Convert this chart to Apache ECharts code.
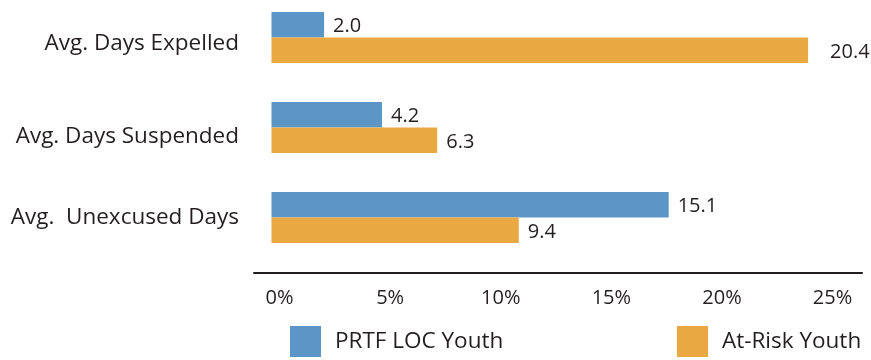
<!DOCTYPE html>
<html>
<head>
<meta charset="utf-8">
<script src="https://cdn.jsdelivr.net/npm/echarts@6/dist/echarts.min.js"></script>
<style>
  html, body { margin: 0; padding: 0; background: #fff; }
  #chart { width: 871px; height: 360px; }
</style>
</head>
<body>
<div id="chart"></div>
<script>
// Attendance and discipline measures, top to bottom
const categories = ['Avg. Days Expelled', 'Avg. Days Suspended', 'Avg.  Unexcused Days'];
const seriesNames = ['PRTF LOC Youth', 'At-Risk Youth'];
const prtfValues = [2.0, 4.2, 15.1];
const atRiskValues = [20.4, 6.3, 9.4];
const tickLabels = [0, 5, 10, 15, 20, 25];

const FONT = '"Open Sans", "Noto Sans", sans-serif';
const INK = '#231f20';
const BLUE = '#5b96c6';
const ORANGE = '#eaa843';

const chart = echarts.init(document.getElementById('chart'), null, { renderer: 'canvas' });

function valueLabel(dist) {
  return {
    show: true,
    position: 'right',
    distance: dist,
    offset: [0, 2],
    color: INK,
    fontFamily: FONT,
    fontSize: 20,
    formatter: p => p.value.toFixed(1)
  };
}

// per-row vertical nudges for the category labels
const catRich = {
  r0: { padding: [12, 0, 0, 0] },
  r1: { padding: [19, 0, 0, 0] },
  r2: { padding: [0, 0, 0, 0] }
};

chart.setOption({
  animation: false,
  backgroundColor: '#fff',
  grid: {
    left: 254, top: -7.5, width: 608, height: 270,
    containLabel: false, outerBoundsMode: 'none'
  },
  xAxis: [
    {
      // scale used by the bars
      type: 'value', min: -0.665, max: 22.45, show: false
    },
    {
      // percentage scale printed beneath the line
      type: 'value', min: -1.153, max: 26.33,
      position: 'bottom', offset: 10,
      axisLine: { show: true, lineStyle: { color: INK, width: 2 } },
      axisTick: { show: false },
      splitLine: { show: false },
      axisLabel: {
        customValues: tickLabels,
        formatter: '{value}%',
        color: INK, fontFamily: FONT, fontSize: 20, margin: 16
      }
    }
  ],
  yAxis: {
    type: 'category',
    inverse: true,
    data: categories,
    axisLine: { show: false },
    axisTick: { show: false },
    splitLine: { show: false },
    axisLabel: {
      color: INK, fontFamily: FONT, fontSize: 22.5, margin: 15,
      formatter: (v, i) => '{r' + i + '|' + v + '}',
      rich: catRich
    }
  },
  legend: [
    {
      data: [seriesNames[0]], left: 290, top: 326, padding: 0,
      itemWidth: 31, itemHeight: 31, icon: 'rect',
      textStyle: { color: INK, fontFamily: FONT, fontSize: 22.5, padding: [12, 0, 0, 9] }
    },
    {
      data: [seriesNames[1]], left: 677, top: 326, padding: 0,
      itemWidth: 31, itemHeight: 31, icon: 'rect',
      textStyle: { color: INK, fontFamily: FONT, fontSize: 22.5, padding: [12, 0, 0, 9] }
    }
  ],
  series: [
    {
      name: seriesNames[0], type: 'bar', xAxisIndex: 0,
      data: prtfValues, barWidth: 25.5, barGap: '0%',
      itemStyle: { color: BLUE },
      label: valueLabel(9)
    },
    {
      name: seriesNames[1], type: 'bar', xAxisIndex: 0,
      data: atRiskValues.map((v, i) => i === 0 ? { value: v, label: { distance: 22 } } : v),
      barWidth: 25.5, barGap: '0%',
      itemStyle: { color: ORANGE },
      label: valueLabel(9)
    }
  ]
});
</script>
</body>
</html>
